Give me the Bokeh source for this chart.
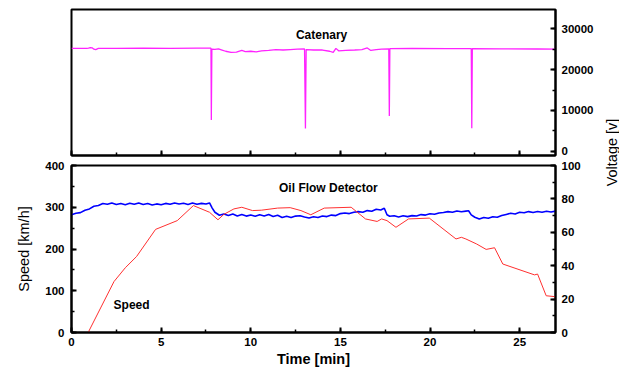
import math
from bokeh.plotting import figure
from bokeh.models import Range1d, LinearAxis, SingleIntervalTicker, Label
from bokeh.layouts import column, row
from bokeh.embed import file_html
from bokeh.resources import INLINE

FONT = "Liberation Sans"

# ---------------- data ----------------
# Catenary voltage [V] vs time [min]
cat_t = [0, 0.85, 0.95, 1.05, 1.15, 1.25, 1.35, 1.5, 2.5, 4.0, 5.5, 7.0, 7.78, 7.80, 7.83,
         8.0, 8.2, 8.4, 8.6, 8.9, 9.2, 9.5, 9.7, 10.0, 10.3, 10.6, 11.0, 11.4, 11.8, 12.2,
         12.6, 13.0, 13.05, 13.09, 13.5, 14.0, 14.4, 14.6, 14.75, 14.9, 15.3, 15.8, 16.2,
         16.5, 16.7, 17.0, 17.3, 17.7, 17.73, 17.76, 19.0, 21.0, 22.3, 22.33, 22.36, 24.0,
         26.0, 27.0]
cat_v = [25200, 25200, 25250, 25400, 25350, 25000, 24900, 25200, 25200, 25250, 25200, 25250,
         25250, 7660, 25000,
         24950, 25100, 24800, 24500, 24200, 24300, 24700, 24400, 24500, 24350, 24600, 24700,
         24900, 24800, 24900,
         25000, 25050, 5540, 24900, 24800, 24800, 24500, 24200, 25200, 24600, 24700, 24800,
         24900,
         25300, 24700, 24900, 25000, 25100, 8630, 25150, 25200, 25150, 25150, 5610, 25150,
         25100,
         25050, 25000]

# Speed [km/h] vs time [min]
spd_t = [0, 0.93, 2.37, 3.0, 3.63, 4.69, 5.9, 6.8, 7.7, 8.17, 8.5, 9.06, 9.5, 10.1, 10.6,
         11.5, 12.2, 12.8, 13.35, 14.1, 15.6, 16.4, 17.05, 17.3, 17.6, 18.1, 18.8, 19.96,
         21.45, 21.75, 22.0, 22.6, 23.13, 23.6, 24.06, 25.83, 26.0, 26.48, 26.95, 27.0]
spd_v = [0, 0, 122, 155, 182, 247, 268, 304, 288, 270, 283, 296, 300, 292, 293,
         298, 299, 292, 282, 298, 300, 272, 266, 272, 268, 252, 272, 274,
         224, 228, 224, 212, 199, 203, 164, 138, 140, 88, 86, 78]

# Oil flow detector (right axis, 0-100) vs time [min]
oil_t = [0.00, 0.25, 0.50, 0.75, 1.00, 1.25, 1.50, 1.75, 2.00, 2.25, 2.50, 2.75, 3.00, 3.25,
         3.50, 3.75, 4.00, 4.25, 4.50, 4.75, 5.00, 5.25, 5.50, 5.75, 6.00, 6.25, 6.50, 6.75,
         7.00, 7.25, 7.50, 7.70, 7.85, 8.00, 8.25, 8.50, 8.75, 9.00, 9.25, 9.50, 9.75, 10.00,
         10.25, 10.50, 10.75, 11.00, 11.25, 11.50, 11.75, 12.00, 12.25, 12.50, 12.75, 13.00,
         13.25, 13.50, 13.75, 14.00, 14.25, 14.50, 14.75, 15.00, 15.25, 15.50, 15.75, 16.00,
         16.25, 16.50, 16.75, 17.00, 17.25, 17.45, 17.60, 17.75, 18.00, 18.25, 18.50, 18.75,
         19.00, 19.25, 19.50, 19.75, 20.00, 20.25, 20.50, 20.75, 21.00, 21.25, 21.50, 21.75,
         22.00, 22.15, 22.30, 22.50, 22.75, 23.00, 23.25, 23.50, 23.75, 24.00, 24.25, 24.50,
         24.75, 25.00, 25.25, 25.50, 25.75, 26.00, 26.25, 26.50, 26.75, 27.00]
oil_v = [70.5, 71.4, 71.8, 73.2, 74.0, 75.6, 76.0, 77.2, 76.8, 77.6, 76.6, 77.3, 76.5, 77.4,
         76.8, 77.5, 76.6, 77.2, 76.4, 77.0, 76.5, 77.3, 76.8, 77.6, 76.9, 77.4, 76.7, 77.5,
         76.8, 77.3, 76.9, 77.6, 74.5, 72.0, 70.2, 71.0, 70.1, 70.9, 69.8, 70.6, 69.7, 70.4,
         69.6, 70.5, 69.8, 70.7, 69.5, 70.2, 68.9, 69.6, 68.8, 69.7, 69.9, 69.2,
         68.6, 69.3, 68.9, 69.8, 69.4, 70.3, 70.0, 71.2, 71.6, 71.2, 72.0, 72.4,
         72.0, 73.0, 72.6, 73.8, 73.4, 74.4, 70.5, 69.6, 69.9, 69.2, 69.9, 69.4,
         70.0, 69.8, 70.6, 70.3, 71.1, 70.8, 71.6, 71.9, 72.4, 72.0, 72.8, 72.3,
         72.7, 72.9, 70.4, 69.0, 67.9, 68.9, 68.4, 69.3, 69.0, 70.0, 70.7, 71.4,
         71.0, 72.0, 71.7, 72.4, 71.9, 72.5, 72.0, 72.6, 72.2, 72.7]

X_TICKS = [0, 5, 10, 15, 20, 25]


# ---------------- styling helpers ----------------
def style_axis(ax, size="11.5px"):
    ax.axis_line_width = 2
    ax.axis_line_color = "black"
    ax.major_tick_in = 5
    ax.major_tick_out = 0
    ax.minor_tick_in = 3
    ax.minor_tick_out = 0
    ax.major_tick_line_width = 2
    ax.minor_tick_line_width = 1.5
    ax.major_label_text_font = FONT
    ax.major_label_text_font_style = "bold"
    ax.major_label_text_font_size = size
    ax.major_label_text_color = "black"
    ax.axis_label_text_color = "black"


def style_fig(p):
    p.xgrid.visible = False
    p.ygrid.visible = False
    p.outline_line_color = "black"
    p.outline_line_width = 2
    p.outline_line_alpha = 1


FW = 484
LB, RB = 71, 48

# ---------------- top panel: catenary ----------------
p1 = figure(frame_width=FW, frame_height=146, output_backend="svg", toolbar_location=None,
            x_range=Range1d(0, 27), y_range=Range1d(-1050, 34730),
            y_axis_location="right",
            min_border_left=LB, min_border_right=RB, min_border_top=9,
            min_border_bottom=5)
style_fig(p1)
p1.line(cat_t, cat_v, color="#ff22ff", line_width=1.3)
p1.xaxis.ticker = SingleIntervalTicker(interval=5, num_minor_ticks=2)
p1.yaxis.ticker = SingleIntervalTicker(interval=10000, num_minor_ticks=2)
for ax in p1.xaxis + p1.yaxis:
    style_axis(ax)
p1.xaxis.major_label_overrides = {t: "" for t in X_TICKS}
p1.xaxis.major_label_text_font_size = "0px"
p1.xaxis.major_label_standoff = 0
p1.yaxis.major_label_standoff = 6
p1.add_layout(Label(x=13.95, y=28400, text="Catenary", text_font=FONT,
                    text_font_style="bold", text_font_size="12px", text_color="black",
                    text_align="center", text_baseline="middle"))

# ---------------- bottom panel: speed + oil flow ----------------
p2 = figure(frame_width=FW, frame_height=167, output_backend="svg", toolbar_location=None,
            x_range=Range1d(0, 27), y_range=Range1d(0, 400),
            min_border_left=LB, min_border_right=RB, min_border_top=5,
            min_border_bottom=34)
p2.extra_y_ranges = {"oil": Range1d(0, 100)}
style_fig(p2)
p2.line(oil_t, oil_v, y_range_name="oil", color="#0000ff", line_width=1.6)
p2.line(spd_t, spd_v, color="#ff3030", line_width=1)

right = LinearAxis(y_range_name="oil",
                   ticker=SingleIntervalTicker(interval=20, num_minor_ticks=2))
p2.add_layout(right, "right")
p2.xaxis.ticker = SingleIntervalTicker(interval=5, num_minor_ticks=2)
p2.left[0].ticker = SingleIntervalTicker(interval=100, num_minor_ticks=2)
for ax in p2.xaxis + p2.yaxis:
    style_axis(ax)
right.major_label_standoff = 6
p2.left[0].major_label_standoff = 7
p2.left[0].axis_label = "Speed [km/h]"
p2.left[0].axis_label_text_font = FONT
p2.left[0].axis_label_text_font_style = "normal"
p2.left[0].axis_label_text_font_size = "14.5px"
p2.left[0].axis_label_standoff = 10
p2.xaxis.axis_label = "Time [min]"
p2.xaxis.axis_label_text_font = FONT
p2.xaxis.axis_label_text_font_style = "bold"
p2.xaxis.axis_label_text_font_size = "14.5px"
p2.xaxis.axis_label_standoff = 2
p2.xaxis.major_label_standoff = 5

p2.add_layout(Label(x=14.33, y=346, text="Oil Flow Detector", text_font=FONT,
                    text_font_style="bold", text_font_size="12px", text_color="black",
                    text_align="center", text_baseline="middle"))
p2.add_layout(Label(x=3.35, y=66, text="Speed", text_font=FONT,
                    text_font_style="bold", text_font_size="12px", text_color="black",
                    text_align="center", text_baseline="middle"))

# ---------------- narrow strip carrying the shared right-hand label ----------------
p3 = figure(width=16, height=366, output_backend="svg", toolbar_location=None,
            x_range=Range1d(0, 1), y_range=Range1d(0, 1),
            x_axis_location=None, y_axis_location=None,
            min_border=0)
p3.outline_line_color = None
p3.xgrid.visible = False
p3.ygrid.visible = False
p3.add_layout(Label(x=0.5, y=(366 - 152) / 366, text="Voltage [v]", text_font=FONT,
                    text_font_size="14.5px", angle=math.pi / 2, text_color="black",
                    text_align="center", text_baseline="middle"))

layout = row(column(p1, p2), p3)

open("out.html", "w").write(file_html(layout, INLINE))
